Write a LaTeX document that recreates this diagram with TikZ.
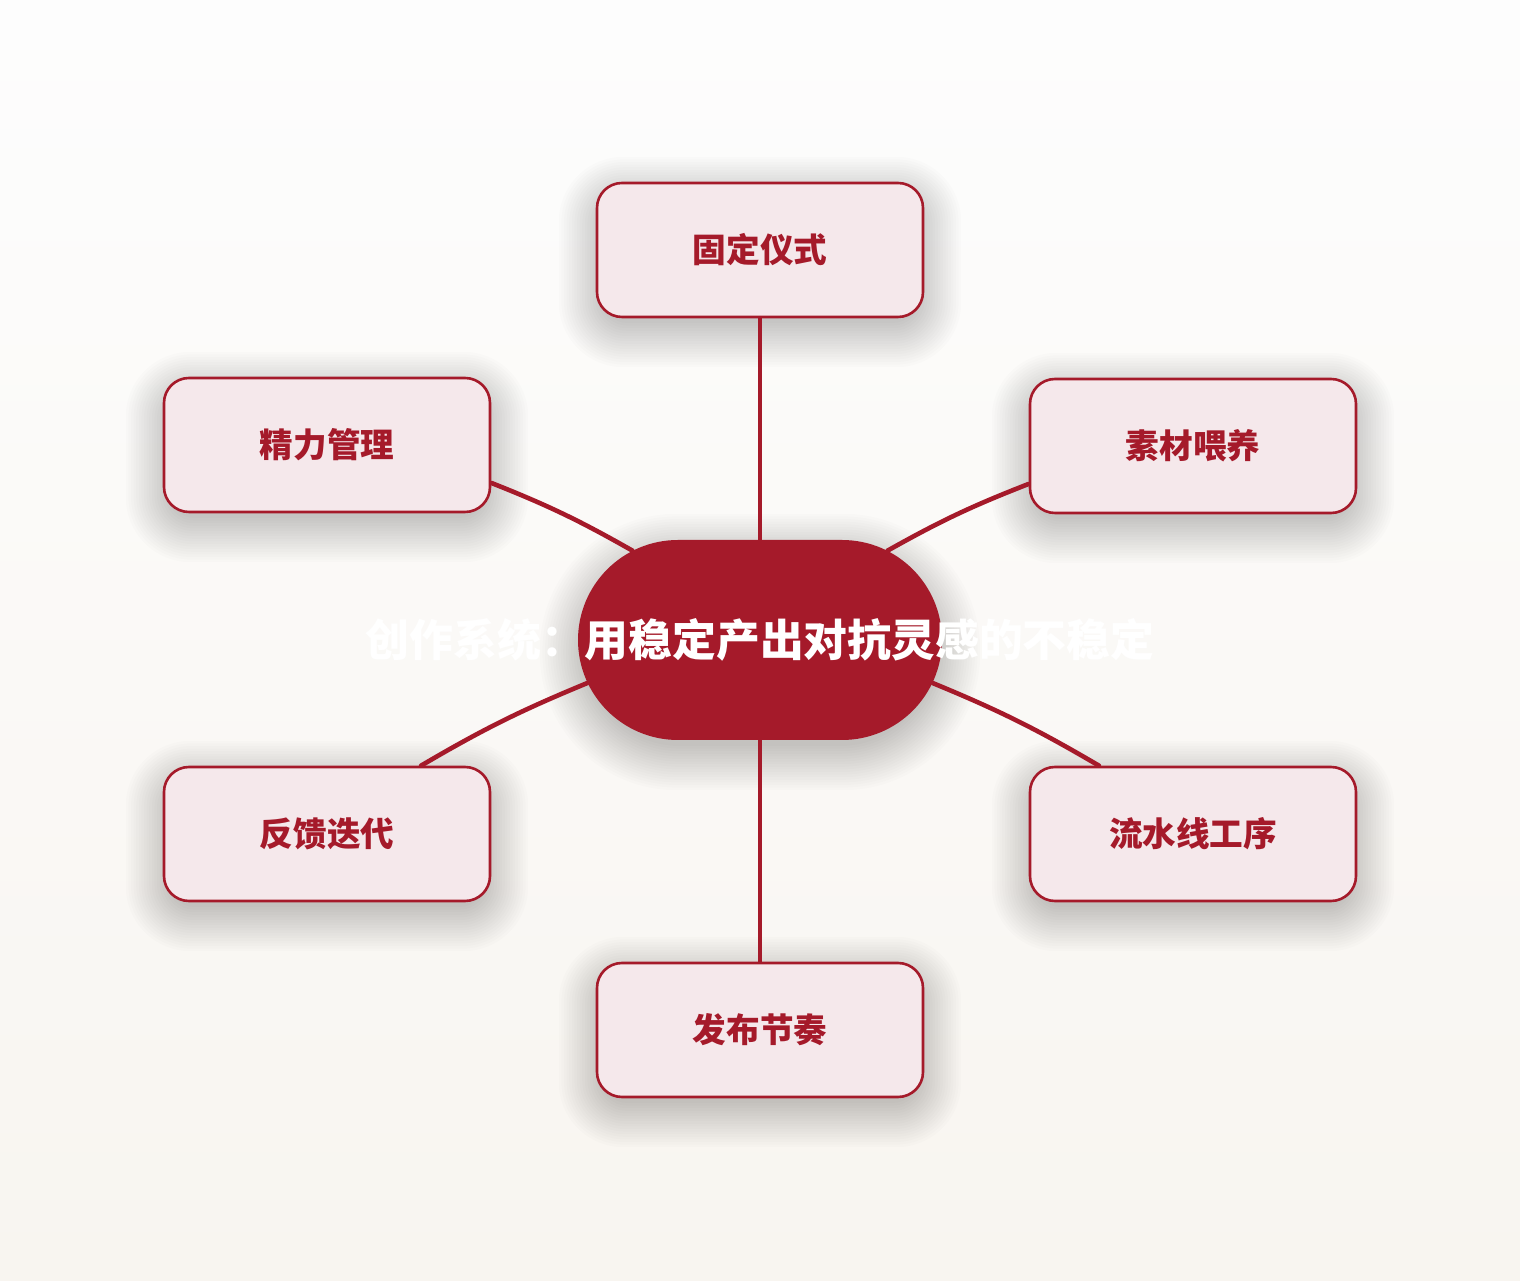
\documentclass[tikz,border=0pt]{standalone}
\usepackage{xcolor}
\usepackage{fontspec}
\newfontfamily\cjk{Noto Sans CJK SC}
\usetikzlibrary{positioning, shapes.misc, calc}

\definecolor{hubred}{HTML}{A51A2A}
\definecolor{boxfill}{HTML}{F5E8EB}
\definecolor{bgtop}{HTML}{FDFDFD}
\definecolor{bgbot}{HTML}{F8F5F0}

% soft shadow: centre x, centre y, width, height, corner radius (pt)
\newcommand{\softshade}[5]{%
  \foreach \i in {0,...,17}
    \fill [black, fill opacity=0.011, rounded corners=#5pt+1.2*\i pt]
      (#1-#3/2+6-2.6*\i, #2-12-#4/2+6-2.6*\i) rectangle (#1+#3/2-6+2.6*\i, #2-12+#4/2-6+2.6*\i);
}

\tikzset{
  topic/.style={draw=hubred, line width=1.3pt, fill=boxfill, rounded corners=12.5pt,
    minimum width=163pt, minimum height=67pt, inner sep=0pt, text=hubred,
    font=\cjk\bfseries\fontsize{16.8}{20}\selectfont},
  hub/.style={rounded rectangle, fill=hubred, minimum width=182pt, minimum height=100pt, inner sep=0pt},
  hubtext/.style={text=white, inner sep=0pt, font=\cjk\bfseries\fontsize{21.9}{26}\selectfont},
  link/.style={draw=hubred, line width=2.3pt, line cap=round}
}

\begin{document}
\begin{tikzpicture}[x=0.5pt, y=0.5pt]
\useasboundingbox (0,0) rectangle (1520,1280);
\shade [top color=bgtop, bottom color=bgbot] (0,0) rectangle (1520,1280);

% shadows
\softshade{760}{640}{364}{200}{48}
\softshade{760}{1030}{326}{134}{12}
\softshade{327}{835}{326}{134}{12}
\softshade{1193}{834}{326}{134}{12}
\softshade{327}{446}{326}{134}{12}
\softshade{1193}{446}{326}{134}{12}
\softshade{760}{250}{326}{134}{12}

% centre
\node [hub] (hub) at (760,640) {};

% topics
\node [topic] (ritual)   at (760,1030) {固定仪式};
\node [topic] (energy)   at (327,835)  {精力管理};
\node [topic] (material) at (1193,834) {素材喂养};
\node [topic] (feedback) at (327,446)  {反馈迭代};
\node [topic] (pipeline) at (1193,446) {流水线工序};
\node [topic] (release)  at (760,250)  {发布节奏};

% links
\draw [link] (ritual.south) -- (hub.north);
\draw [link] (energy.-13) to[bend left=4] (hub.145);
\draw [link] (material.193) to[bend right=4] (hub.35);
\draw [link] (feedback.36) to[bend left=4] (hub.194);
\draw [link] (pipeline.144) to[bend right=4] (hub.346);
\draw [link] (release.north) -- (hub.south);

\node [hubtext] (title) at (hub.center) {创作系统：用稳定产出对抗灵感的不稳定};
\end{tikzpicture}
\end{document}
